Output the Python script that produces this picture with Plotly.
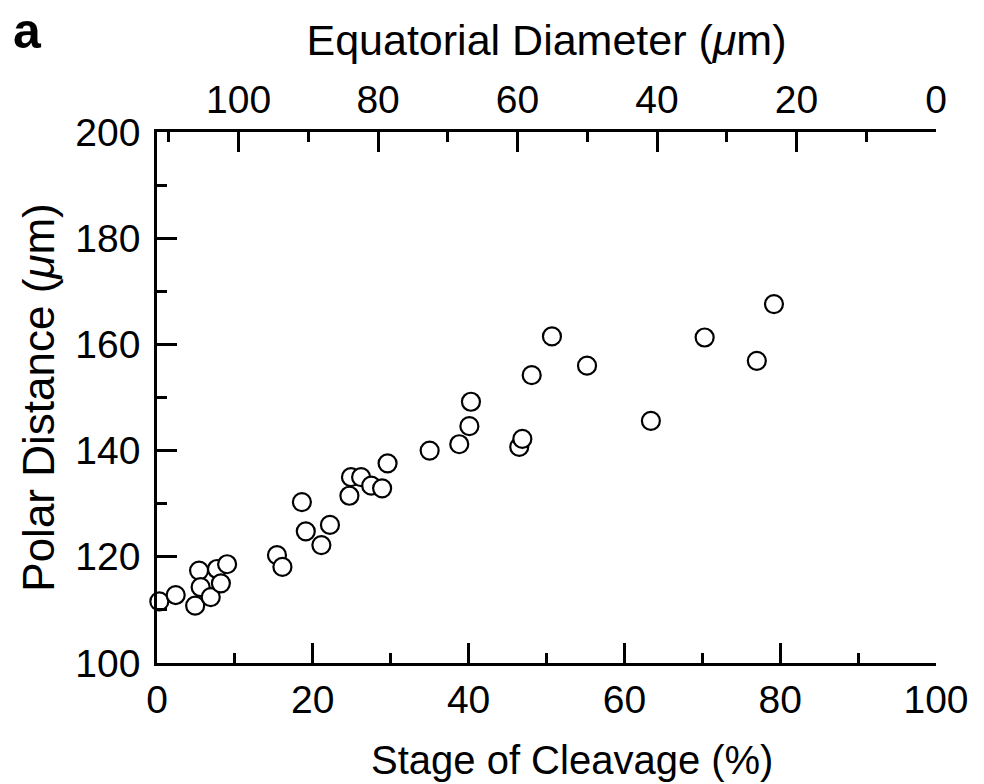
import plotly.graph_objects as go

# ---- data ----
stage_pct = [-0.4, 0.3, 2.4, 4.9, 5.4, 5.6, 6.9, 7.7, 8.2, 9.0,
             15.4, 16.1, 18.6, 19.1, 21.1, 22.2, 24.7, 24.9, 26.2, 27.5,
             28.9, 29.6, 35.0, 38.8, 40.1, 40.3, 46.5, 46.9, 48.1, 50.7,
             55.2, 63.4, 70.3, 77.0, 79.2]
polar_um = [112.1, 111.6, 112.8, 110.8, 117.4, 114.3, 112.4, 117.7, 115.0, 118.6,
            120.3, 118.1, 130.3, 124.8, 122.2, 126.0, 131.5, 135.0, 135.0, 133.4,
            132.9, 137.6, 140.0, 141.2, 144.6, 149.2, 140.7, 142.2, 154.2, 161.5,
            156.0, 145.6, 161.3, 156.9, 167.6]

stage_ticks = [0, 20, 40, 60, 80, 100]
polar_ticks = [100, 120, 140, 160, 180, 200]
diam_ticks = [100, 80, 60, 40, 20, 0]
diam_range = [111.7, 0]

FONT = "Liberation Sans, Arial, Helvetica, sans-serif"
BLK = "black"

fig = go.Figure()

fig.add_trace(go.Scatter(
    x=stage_pct, y=polar_um, mode="markers",
    marker=dict(symbol="circle", size=18, color="white",
                line=dict(color=BLK, width=2.2)),
    cliponaxis=False, showlegend=False, hoverinfo="x+y",
))
# helper trace so the top (diameter) axis is drawn
fig.add_trace(go.Scatter(
    x=diam_ticks, y=[None] * len(diam_ticks), xaxis="x2", yaxis="y",
    mode="markers", showlegend=False, hoverinfo="skip",
))

axis_common = dict(
    showline=True, linecolor=BLK, linewidth=2.5, mirror=False,
    showgrid=False, zeroline=False,
    ticks="inside", ticklen=20, tickwidth=2.5, tickcolor=BLK,
    tickfont=dict(family=FONT, size=39, color=BLK),
)

fig.update_layout(
    width=984, height=784,
    margin=dict(l=157, r=48, t=132, b=121),
    paper_bgcolor="white", plot_bgcolor="white",
    showlegend=False,
    font=dict(family=FONT, color=BLK),
    xaxis=dict(
        **axis_common, range=[0, 100], tickmode="array",
        tickvals=stage_ticks, ticktext=[str(v) for v in stage_ticks],
        minor=dict(ticks="inside", ticklen=10, tickwidth=2.5, tickcolor=BLK,
                   dtick=10, tick0=0, showgrid=False),
        ticklabelstandoff=0,
    ),
    xaxis2=dict(
        **axis_common, range=diam_range, overlaying="x", side="top",
        anchor="y", tickmode="linear", tick0=0, dtick=20,
        minor=dict(ticks="inside", ticklen=10, tickwidth=2.5, tickcolor=BLK,
                   dtick=10, tick0=0, showgrid=False),
        ticklabelstandoff=1,
        title=dict(text="Equatorial Diameter (<i>μ</i>m)", standoff=9,
                   font=dict(family=FONT, size=43, color=BLK)),
    ),
    yaxis=dict(
        **axis_common, range=[100, 200], tickmode="array",
        tickvals=polar_ticks, ticktext=[str(v) for v in polar_ticks],
        minor=dict(ticks="inside", ticklen=10, tickwidth=2.5, tickcolor=BLK,
                   dtick=10, tick0=100, showgrid=False),
        ticklabelstandoff=6,
        title=dict(text="Polar Distance (<i>μ</i>m)", standoff=7,
                   font=dict(family=FONT, size=44, color=BLK)),
    ),
    annotations=[
        dict(text="Stage of Cleavage (%)", xref="paper", yref="paper",
             x=0.533, y=-0.1827, xanchor="center", yanchor="middle",
             showarrow=False, font=dict(family=FONT, size=40, color=BLK)),
        dict(text="<b>a</b>", xref="paper", yref="paper", x=-0.1662, y=1.2486,
             xanchor="center", yanchor="top", yshift=-1,
             showarrow=False, font=dict(family=FONT, size=50, color=BLK)),
    ],
)

fig.write_html("out.html")
